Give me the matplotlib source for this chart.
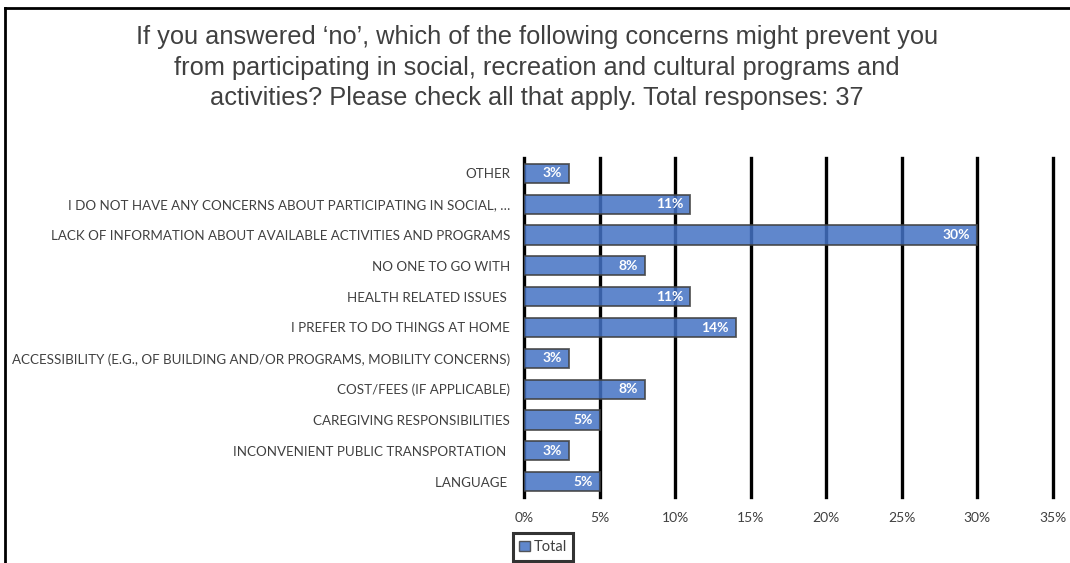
import matplotlib
matplotlib.use('Agg')
import matplotlib.pyplot as plt
from matplotlib.lines import Line2D
from matplotlib.patches import Patch
from matplotlib.ticker import FuncFormatter, MultipleLocator

# survey answers, listed top to bottom as shown
categories = [
    'OTHER',
    'I DO NOT HAVE ANY CONCERNS ABOUT PARTICIPATING IN SOCIAL, …',
    'LACK OF INFORMATION ABOUT AVAILABLE ACTIVITIES AND PROGRAMS',
    'NO ONE TO GO WITH',
    'HEALTH RELATED ISSUES ',
    'I PREFER TO DO THINGS AT HOME',
    'ACCESSIBILITY (E.G., OF BUILDING AND/OR PROGRAMS, MOBILITY CONCERNS)',
    'COST/FEES (IF APPLICABLE)',
    'CAREGIVING RESPONSIBILITIES',
    'INCONVENIENT PUBLIC TRANSPORTATION ',
    'LANGUAGE ',
]
pct = [3, 11, 30, 8, 11, 14, 3, 8, 5, 3, 5]

title = ("If you answered \u2018no\u2019, which of the following concerns might prevent you\n"
         "from participating in social, recreation and cultural programs and\n"
         "activities? Please check all that apply. Total responses: 37")

W, H = 1070, 563
LABEL_FONT = ['Lato', 'DejaVu Sans']
TEXT_GREY = '#404040'
BAR_COLOR = '#4472C4'

fig = plt.figure(figsize=(W / 100, H / 100), dpi=100)
ax = fig.add_axes([524 / W, 1 - 497 / H, (1053 - 524) / W, (497 - 158) / H])

y = list(range(len(categories)))
bars = ax.barh(y, pct, height=0.62, color=BAR_COLOR, alpha=0.85,
               edgecolor='#404040', linewidth=1.3, zorder=3)

for b, v in zip(bars, pct):
    ax.annotate(f'{v}%', xy=(v, b.get_y() + b.get_height() / 2),
                xytext=(-5, 0), textcoords='offset points',
                ha='right', va='center', color='white', fontsize=10,
                fontweight='bold', family=LABEL_FONT, zorder=4)

ax.set_xlim(0, 35)
ax.set_ylim(len(categories) - 0.5, -0.5)
ax.xaxis.set_major_locator(MultipleLocator(5))
ax.xaxis.set_major_formatter(FuncFormatter(lambda v, _: f'{v:.0f}%'))
ax.grid(axis='x', color='black', linewidth=2.4, zorder=1)
ax.set_axisbelow(True)
for s in ax.spines.values():
    s.set_visible(False)

ax.set_yticks(y)
ax.set_yticklabels(categories)
ax.tick_params(axis='both', length=0, labelsize=9.6, colors=TEXT_GREY)
ax.tick_params(axis='y', pad=10)
ax.tick_params(axis='x', pad=11, labelsize=10)
for lbl in ax.get_yticklabels() + ax.get_xticklabels():
    lbl.set_family(LABEL_FONT)

# keep the edge gridlines (0% and 35%) at full width
for gl in ax.get_xgridlines():
    gl.set_clip_on(False)

fig.text(537 / W, 1 - 67.5 / H, title, ha='center', va='center',
         fontsize=18.3, color=TEXT_GREY, linespacing=1.36,
         family=['Liberation Sans', 'DejaVu Sans'])

leg = fig.legend(handles=[Patch(facecolor=BAR_COLOR, alpha=0.85, edgecolor='#404040')],
                 labels=['Total'], loc='center', bbox_to_anchor=(543 / W, 1 - 547 / H),
                 frameon=True, fancybox=False, handlelength=0.75, handleheight=0.75,
                 handletextpad=0.2, borderpad=0.45, borderaxespad=0,
                 prop={'family': LABEL_FONT, 'size': 10.5})
leg.get_frame().set_edgecolor('black')
leg.get_frame().set_linewidth(2.2)
for t in leg.get_texts():
    t.set_color(TEXT_GREY)

# outer chart border (only the top and left edges are in frame)
fig.add_artist(Line2D([5 / W, 5 / W], [0, 1 - 8 / H], transform=fig.transFigure,
                      color='black', linewidth=2))
fig.add_artist(Line2D([5 / W, 1], [1 - 8 / H, 1 - 8 / H], transform=fig.transFigure,
                      color='black', linewidth=2))

fig.savefig('out.png', dpi=100)
